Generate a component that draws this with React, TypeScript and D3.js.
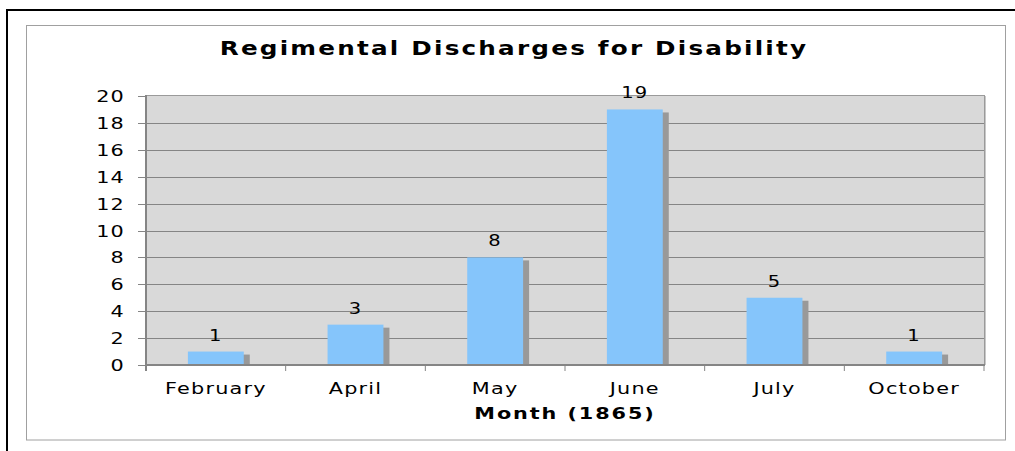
import React from "react";
import * as d3 from "d3";

const months = ["February", "April", "May", "June", "July", "October"];
const discharges = [1, 3, 8, 19, 5, 1];
const yTicks = [0, 2, 4, 6, 8, 10, 12, 14, 16, 18, 20];
const chartTitle = "Regimental Discharges for Disability";
const xTitle = "Month (1865)";

const W = 1015;
const H = 451;
const plot = { left: 146, right: 984, top: 96, bottom: 365 };
const SX = 1.3;
const FONT = "'DejaVu Sans', Verdana, sans-serif";

function SText({ x, y, size, bold, anchor, ls, children }: any) {
  return (
    <text
      transform={`translate(${x},${y}) scale(${SX},1)`}
      fontFamily={FONT}
      fontSize={size}
      fontWeight={bold ? "bold" : "normal"}
      textAnchor={anchor}
      letterSpacing={ls / SX}
      fill="#000"
    >
      {children}
    </text>
  );
}

export default function App() {
  const x = d3.scaleBand<string>().domain(months).range([plot.left, plot.right]).padding(0);
  const y = d3.scaleLinear().domain([0, 20]).range([plot.bottom, plot.top]);
  const bw = x.bandwidth() * 0.4;
  const boundaries = [...months.map((m) => x(m) as number), plot.right];

  return (
    <div style={{ position: "absolute", left: 0, top: 0 }}>
      <svg width={W} height={H} style={{ display: "block" }}>
        <rect x={0} y={0} width={W} height={H} fill="#fff" />
        <rect x={7} y={10} width={W + 20} height={H + 20} fill="none" stroke="#000" strokeWidth={2} />
        <rect x={26.5} y={25.5} width={979} height={414.5} fill="#fff" stroke="#a0a0a0" strokeWidth={1} />

        <SText x={514} y={55} size={19} bold anchor="middle" ls={2.2}>{chartTitle}</SText>

        <rect
          x={plot.left}
          y={plot.top}
          width={plot.right - plot.left}
          height={plot.bottom - plot.top}
          fill="#d9d9d9"
        />
        {yTicks.filter((t) => t > 0 && t < 20).map((t) => (
          <line key={t} x1={plot.left} x2={plot.right} y1={Math.round(y(t)) + 0.5} y2={Math.round(y(t)) + 0.5} stroke="#858585" strokeWidth={1} />
        ))}
        <line x1={plot.left} x2={plot.right + 1} y1={plot.top - 0.5} y2={plot.top - 0.5} stroke="#9a9a9a" strokeWidth={1} />
        <line x1={plot.right + 0.5} x2={plot.right + 0.5} y1={plot.top} y2={plot.bottom} stroke="#9a9a9a" strokeWidth={1} />
        <line x1={plot.right + 1.5} x2={plot.right + 1.5} y1={plot.top} y2={plot.bottom} stroke="#c8c8c8" strokeWidth={1} />

        {months.map((m, i) => {
          const cx = (x(m) as number) + x.bandwidth() / 2;
          const top = y(discharges[i]);
          return (
            <g key={m}>
              <rect x={cx - bw / 2 + 6} y={top + 3} width={bw} height={plot.bottom - top - 3} fill="#999999" />
              <rect x={cx - bw / 2} y={top} width={bw} height={plot.bottom - top} fill="#85c5fb" />
              <SText x={cx} y={top - 11} size={15} anchor="middle" ls={1.2}>{discharges[i]}</SText>
            </g>
          );
        })}

        {yTicks.map((t) => (
          <g key={t}>
            <line x1={138} x2={plot.left} y1={Math.round(y(t)) + 0.5} y2={Math.round(y(t)) + 0.5} stroke="#858585" strokeWidth={1} />
            <SText x={125} y={y(t) + 6} size={16} anchor="end" ls={1.2}>{t}</SText>
          </g>
        ))}
        {boundaries.map((b, i) => (
          <line key={i} x1={b} x2={b} y1={plot.bottom} y2={plot.bottom + 6} stroke="#858585" strokeWidth={1} />
        ))}
        <line x1={plot.left} x2={plot.left} y1={plot.top - 1} y2={plot.bottom + 6} stroke="#858585" strokeWidth={2} />
        <line x1={plot.left} x2={plot.right + 1} y1={plot.bottom} y2={plot.bottom} stroke="#858585" strokeWidth={2} />

        {months.map((m) => (
          <SText key={m} x={(x(m) as number) + x.bandwidth() / 2} y={393.5} size={16} anchor="middle" ls={1.2}>{m}</SText>
        ))}
        <SText x={565} y={418.5} size={16} bold anchor="middle" ls={1.9}>{xTitle}</SText>
      </svg>
    </div>
  );
}
